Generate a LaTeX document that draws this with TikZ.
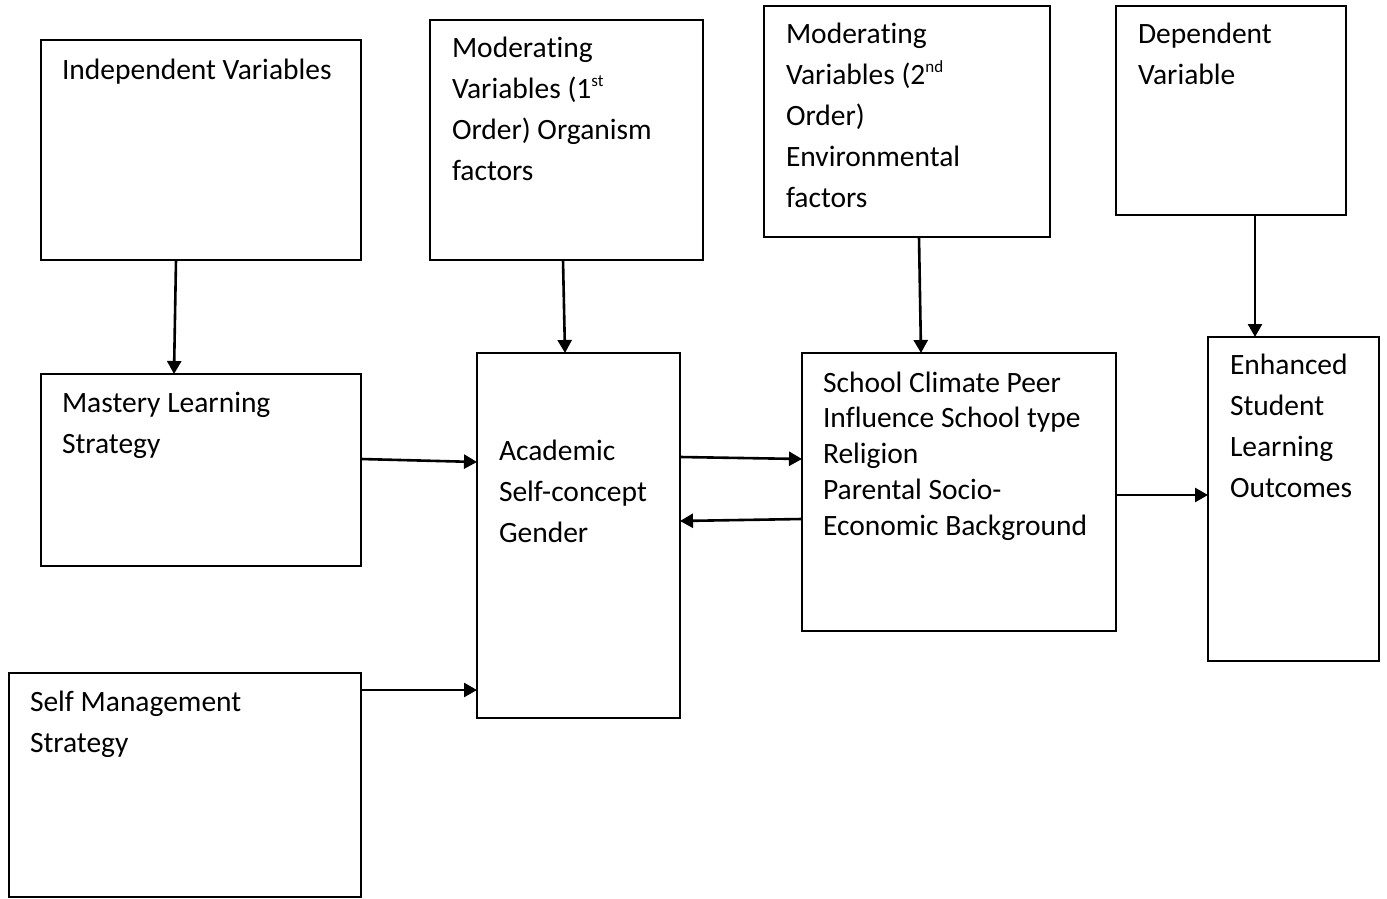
\documentclass[tikz,border=0pt]{standalone}
\usepackage{fontspec}
\setmainfont{Carlito}[RawFeature={-liga;-clig;-calt;-dlig}]
\usetikzlibrary{arrows.meta,calc}
\newcommand{\ttab}[1]{\begin{tabular}[t]{@{}l@{}}#1\end{tabular}}
\newcommand{\sups}[1]{\raisebox{0.42em}{\fontsize{17}{17}\selectfont #1}}
\begin{document}
\begin{tikzpicture}[x=1pt,y=-1pt,
  box/.style={draw=black, line width=2.2pt, rectangle, inner sep=0pt, outer sep=0pt, anchor=north west},
  txt/.style={anchor=base west, inner sep=0pt, outer sep=0pt, font=\fontsize{29.5}{41}\selectfont},
  txtb/.style={anchor=base west, inner sep=0pt, outer sep=0pt, font=\fontsize{29.5}{35.8}\selectfont},
  arr/.style={draw=black, line width=2.6pt, -{Triangle[length=13pt,width=14pt]}}
]
\useasboundingbox (0,0) rectangle (1387,899);

% boxes
\node[box, minimum width=320pt, minimum height=220pt] (iv) at (41,40) {};
\node[box, minimum width=273pt, minimum height=240pt] (mod1) at (430,20) {};
\node[box, minimum width=286pt, minimum height=231pt] (mod2) at (764,6) {};
\node[box, minimum width=230pt, minimum height=209pt] (dep) at (1116,6) {};
\node[box, minimum width=320pt, minimum height=192pt] (ml) at (41,374) {};
\node[box, minimum width=203pt, minimum height=365pt] (acad) at (477,353) {};
\node[box, minimum width=314pt, minimum height=278pt] (sch) at (802,353) {};
\node[box, minimum width=171pt, minimum height=324pt] (enh) at (1208,337) {};
\node[box, minimum width=352pt, minimum height=224pt] (sm) at (9,673) {};

% texts
\node[txt] (ivt) at ($(iv.north west)+(21,39)$) {\ttab{Independent Variables}};
\node[txt] (mod1t) at ($(mod1.north west)+(22,38)$) {\ttab{Modera\kern0pt ting\\Variables (1\sups{st}\\Order) Organism\\factors}};
\node[txt] (mod2t) at ($(mod2.north west)+(22,38)$) {\ttab{Modera\kern0pt ting\\Variables (2\sups{nd}\\Order)\\Environmental\\factors}};
\node[txt] (dept) at ($(dep.north west)+(22,38)$) {\ttab{Dependent\\Variable}};
\node[txt] (mlt) at ($(ml.north west)+(21,38)$) {\ttab{Mastery Learning\\Strategy}};
\node[txt] (acadt) at ($(acad.north west)+(22,107)$) {\ttab{Academic\\Self-concept\\Gender}};
\node[txtb] (scht) at ($(sch.north west)+(21,39)$) {\ttab{School Climate Peer\\Influence School type\\Religion\\Parental Socio-\\Economic Background}};
\node[txt] (enht) at ($(enh.north west)+(22,37)$) {\ttab{Enhanced\\Student\\Learning\\Outcomes}};
\node[txt] (smt) at ($(sm.north west)+(21,38)$) {\ttab{Self Management\\Strategy}};

% connectors
\draw[arr] ($(iv.south west)+(135,0)$) -- ($(ml.north west)+(133,0)$);
\draw[arr] ($(mod1.south west)+(133,0)$) -- ($(acad.north west)+(88,0)$);
\draw[arr] ($(mod2.south west)+(155,0)$) -- ($(sch.north west)+(119,0)$);
\draw[arr] ($(dep.south west)+(139,0)$) -- ($(enh.north west)+(47,0)$);
\draw[arr] ($(ml.north east)+(0,85)$) -- ($(acad.north west)+(0,109)$);
\draw[arr] ($(sm.north east)+(0,17)$) -- ($(acad.north west)+(0,337)$);
\draw[arr] ($(acad.north east)+(0,104)$) -- ($(sch.north west)+(0,106)$);
\draw[arr] ($(sch.north west)+(0,166)$) -- ($(acad.north east)+(0,168)$);
\draw[arr] ($(sch.north east)+(0,142)$) -- ($(enh.north west)+(0,158)$);
\end{tikzpicture}
\end{document}
